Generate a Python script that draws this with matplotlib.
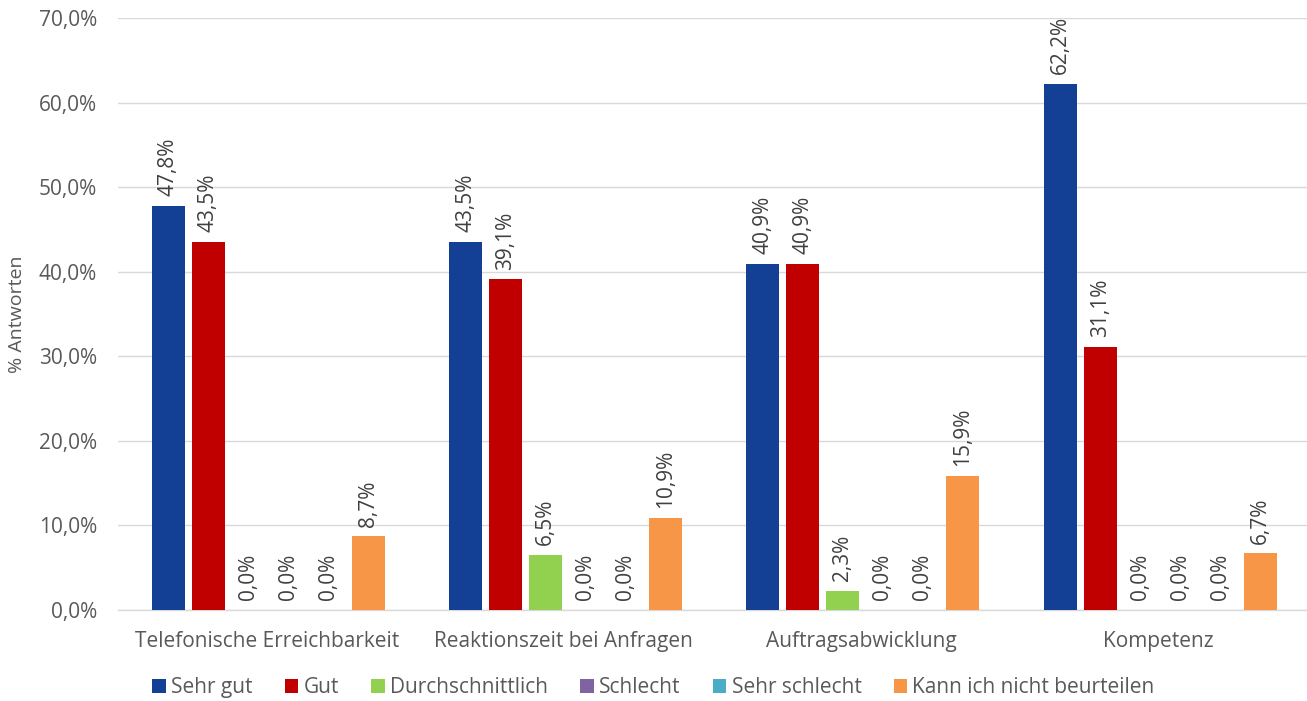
import matplotlib
matplotlib.use("Agg")
import matplotlib.pyplot as plt
import numpy as np

categories = ["Telefonische Erreichbarkeit", "Reaktionszeit bei Anfragen", "Auftragsabwicklung", "Kompetenz"]
series_names = ["Sehr gut", "Gut", "Durchschnittlich", "Schlecht", "Sehr schlecht", "Kann ich nicht beurteilen"]
sehr_gut = [47.8, 43.5, 40.9, 62.2]
gut = [43.5, 39.1, 40.9, 31.1]
durchschnittlich = [0.0, 6.5, 2.3, 0.0]
schlecht = [0.0, 0.0, 0.0, 0.0]
sehr_schlecht = [0.0, 0.0, 0.0, 0.0]
kann_nicht = [8.7, 10.9, 15.9, 6.7]
colors = ["#133F94", "#C00000", "#92D050", "#8064A2", "#4BACC6", "#F79646"]
yticks = [0, 10, 20, 30, 40, 50, 60, 70]

plt.rcParams['font.family'] = ['Open Sans', 'DejaVu Sans']
txt = "#595959"

fig = plt.figure(figsize=(13.07, 7.01), dpi=100)
ax = fig.add_axes([0.0903, 0.1298, 0.9097, 0.8445])

data = [sehr_gut, gut, durchschnittlich, schlecht, sehr_schlecht, kann_nicht]
x = np.arange(len(categories))
step = 0.1346
width = 0.111
for i, (vals, name, c) in enumerate(zip(data, series_names, colors)):
    pos = x + (i - 2.5) * step + 0.006
    ax.bar(pos, vals, width, color=c, label=name, zorder=3)
    for p, v in zip(pos, vals):
        ax.annotate(f"{v:.1f}%".replace(".", ","), (p, v), xytext=(0, 7), textcoords="offset points",
                    rotation=90, ha="center", va="bottom", fontsize=15, color="#404040")

ax.set_xlim(-0.5, len(categories) - 0.5)
ax.set_ylim(0, 70)
ax.set_yticks(yticks)
ax.set_yticklabels([f"{t:.1f}%".replace(".", ",") for t in yticks])
ax.set_xticks(x)
ax.set_xticklabels(categories)
ax.tick_params(axis="both", length=0, labelsize=15, colors=txt)
ax.tick_params(axis="y", pad=15)
ax.tick_params(axis="x", pad=15)
ax.yaxis.grid(True, color="#D9D9D9", linewidth=1, zorder=0)
for s in ["top", "right", "left"]:
    ax.spines[s].set_visible(False)
ax.spines["bottom"].set_color("#D9D9D9")
ax.spines["bottom"].set_linewidth(1)
ax.set_ylabel("% Antworten", fontsize=14, color=txt)
ax.yaxis.set_label_coords(-0.077, 0.5)

fig.legend(loc="center", bbox_to_anchor=(0.5, 0.019), ncol=6, frameon=False, fontsize=15,
           handlelength=0.65, handleheight=0.65, handletextpad=0.25, columnspacing=1.55, labelcolor=txt)

fig.savefig("out.png", dpi=100)
